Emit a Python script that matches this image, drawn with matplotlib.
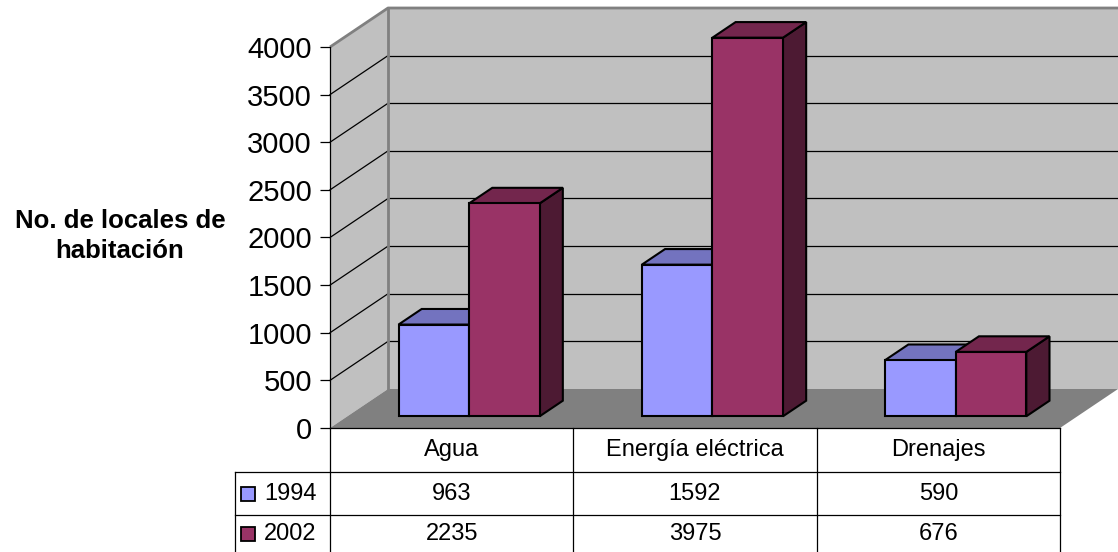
import matplotlib
matplotlib.use("Agg")
import matplotlib.pyplot as plt
from matplotlib.patches import Polygon, Rectangle

# Data
categories = ["Agua", "Energía eléctrica", "Drenajes"]
series_names = ["1994", "2002"]
values_1994 = [963, 1592, 590]
values_2002 = [2235, 3975, 676]
y_ticks = [0, 500, 1000, 1500, 2000, 2500, 3000, 3500, 4000]
y_title = "No. de locales de\nhabitación"

plt.rcParams["font.family"] = ["Liberation Sans", "DejaVu Sans"]

# Styles
face_colors = {"1994": ("#9999FF", "#7373BF", "#4D4D80"),
               "2002": ("#993366", "#73264D", "#4D1A33")}
WALL = "#C0C0C0"
FLOOR = "#808080"
EDGE = "#808080"

W, H, DPI = 1118, 552, 100
fig = plt.figure(figsize=(W / DPI, H / DPI), dpi=DPI)
ax = fig.add_axes([0, 0, 1, 1])

# Front plane of the plot area, in pixels from the top-left corner
X0, X1 = 330, 1060
Y0, YT = 428, 47
VMAX = y_ticks[-1]
n = len(categories)
ppx = (X1 - X0) / n          # pixels per category
ppv = (Y0 - YT) / VMAX       # pixels per unit of value
ax.set_xlim(-X0 / ppx, (W - X0) / ppx)
ax.set_ylim(-(H - Y0) / ppv, Y0 / ppv)

# Oblique depth offset of the 3D box
DX = 58 / ppx
DV = 39 / ppv


def px_to_x(p):
    return (p - X0) / ppx


def px_to_v(p):
    return (Y0 - p) / ppv


# Walls and floor
ax.add_patch(Polygon([(0, 0), (0, VMAX), (DX, VMAX + DV), (DX, DV)],
                     closed=True, facecolor=WALL, edgecolor="none", zorder=1))
ax.add_patch(Polygon([(DX, DV), (n + DX, DV), (n + DX, VMAX + DV), (DX, VMAX + DV)],
                     closed=True, facecolor=WALL, edgecolor="none", zorder=1))
ax.add_patch(Polygon([(0, 0), (n, 0), (n + DX, DV), (DX, DV)],
                     closed=True, facecolor=FLOOR, edgecolor="none", zorder=2))

# Gridlines on the back and side walls
for v in y_ticks[1:-1]:
    ax.plot([DX, n + DX], [v + DV, v + DV], color="black", lw=0.9, zorder=1.5)
    ax.plot([0, DX], [v, v + DV], color="black", lw=0.9, zorder=1.5)

# Wall edges
ax.plot([0, DX, n + DX], [VMAX, VMAX + DV, VMAX + DV], color=EDGE, lw=2.0,
        zorder=1.6, solid_capstyle="butt")
ax.plot([DX, DX], [DV, VMAX + DV], color=EDGE, lw=2.0, zorder=1.6)

# 3D columns
BW = 0.29
F0, F1 = 0.3, 0.7
for i in range(n):
    for j, (name, vals) in enumerate(zip(series_names, [values_1994, values_2002])):
        v = vals[i]
        front, top, side = face_colors[name]
        xl = i + 0.5 - BW + j * BW
        xr = xl + BW
        a0, b0 = F0 * DX, F0 * DV
        a1, b1 = F1 * DX, F1 * DV
        z = 3 + i * 3 + j
        kw = dict(closed=True, edgecolor="black", lw=1.5, joinstyle="miter", zorder=z)
        ax.add_patch(Polygon([(xr + a0, b0), (xr + a1, b1), (xr + a1, v + b1), (xr + a0, v + b0)],
                             facecolor=side, **kw))
        ax.add_patch(Polygon([(xl + a0, v + b0), (xr + a0, v + b0), (xr + a1, v + b1), (xl + a1, v + b1)],
                             facecolor=top, **kw))
        ax.add_patch(Polygon([(xl + a0, b0), (xr + a0, b0), (xr + a0, v + b0), (xl + a0, v + b0)],
                             facecolor=front, **kw))

# Value axis
ax.set_yticks(y_ticks)
ax.set_yticklabels([str(t) for t in y_ticks])
ax.set_xticks([])
ax.tick_params(axis="y", direction="out", length=7, width=0.9, pad=6,
               labelsize=21, colors="black")
for s in ["top", "right", "bottom"]:
    ax.spines[s].set_visible(False)
ax.spines["left"].set_position(("data", 0))
ax.spines["left"].set_bounds(0, VMAX)
ax.spines["left"].set_linewidth(0.9)
ax.spines["left"].set_zorder(20)
ax.patch.set_visible(False)

fig.text(120 / W, 1 - 236 / H, y_title, ha="center", va="center",
         fontsize=18.5, fontweight="bold", linespacing=1.27)

# Data table under the plot
rows_px = [428, 472, 515, 552]
legend_left = px_to_x(235)
line_kw = dict(color="black", lw=0.9, clip_on=False, zorder=25)
ax.plot([0, n], [0, 0], **line_kw)
for r in rows_px[1:3]:
    ax.plot([legend_left, n], [px_to_v(r), px_to_v(r)], **line_kw)
for c in range(n + 1):
    ax.plot([c, c], [0, px_to_v(rows_px[-1])], **line_kw)
ax.plot([legend_left, legend_left], [px_to_v(rows_px[1]), px_to_v(rows_px[-1])], **line_kw)

header_v = px_to_v((rows_px[0] + rows_px[1]) / 2)
for i, cat in enumerate(categories):
    ax.text(i + 0.5, header_v, cat, ha="center", va="center", fontsize=17, zorder=30)

for k, (name, vals) in enumerate(zip(series_names, [values_1994, values_2002])):
    row_v = px_to_v((rows_px[k + 1] + rows_px[k + 2]) / 2)
    for i, v in enumerate(vals):
        ax.text(i + 0.5, row_v, str(v), ha="center", va="center", fontsize=17, zorder=30)
    key_w, key_h = 14 / ppx, 14 / ppv
    ax.add_patch(Rectangle((px_to_x(241), row_v - key_h / 2), key_w, key_h,
                           facecolor=face_colors[name][0], edgecolor="black",
                           lw=1.3, clip_on=False, zorder=30))
    ax.text(px_to_x(264), row_v, name, ha="left", va="center", fontsize=17, zorder=30)

fig.savefig("out.png", dpi=DPI)
